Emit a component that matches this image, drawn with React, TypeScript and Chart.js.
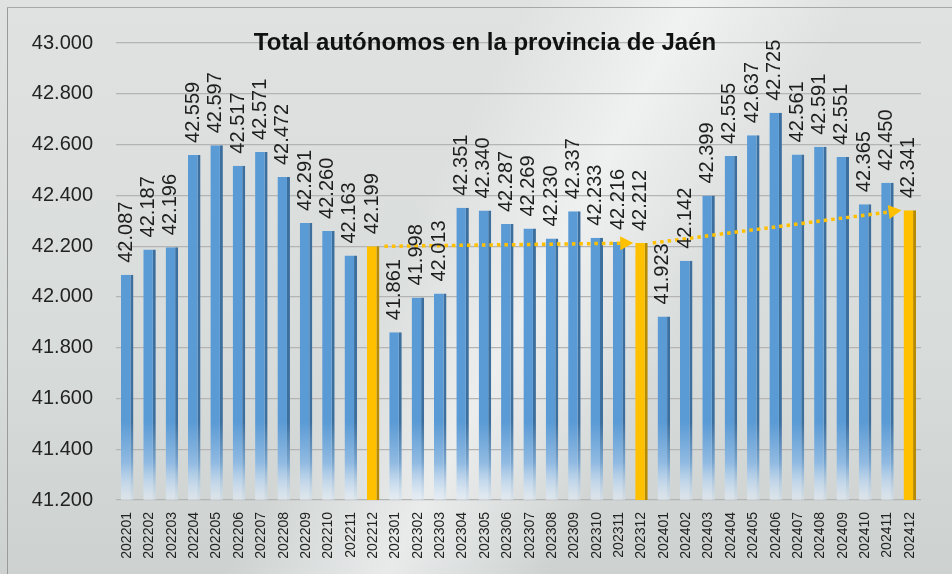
import React, { useEffect, useRef } from 'react';
import { Chart, registerables } from 'chart.js';

Chart.register(...registerables);

const categories = [
  '202201', '202202', '202203', '202204', '202205', '202206', '202207', '202208', '202209', '202210', '202211', '202212',
  '202301', '202302', '202303', '202304', '202305', '202306', '202307', '202308', '202309', '202310', '202311', '202312',
  '202401', '202402', '202403', '202404', '202405', '202406', '202407', '202408', '202409', '202410', '202411', '202412',
];

const values = [
  42087, 42187, 42196, 42559, 42597, 42517, 42571, 42472, 42291, 42260, 42163, 42199,
  41861, 41998, 42013, 42351, 42340, 42287, 42269, 42230, 42337, 42233, 42216, 42212,
  41923, 42142, 42399, 42555, 42637, 42725, 42561, 42591, 42551, 42365, 42450, 42341,
];

const highlighted = ['202212', '202312', '202412'];

const yMin = 41200;
const yMax = 43000;
const yStep = 200;

const titleText = 'Total autónomos en la provincia de Jaén';

const fmt = (v: number) => {
  const s = String(Math.round(v));
  return s.slice(0, -3) + '.' + s.slice(-3);
};

const SANS = '"Liberation Sans", Arial, sans-serif';

const isHi = (i: number) => highlighted.includes(categories[i]);

const gradCache: Record<string, CanvasGradient> = {};
function barFill(ctx: any, dark: boolean) {
  const chart = ctx.chart;
  const area = chart.chartArea;
  if (!area) return dark ? '#41719c' : '#5b9bd5';
  const key = (dark ? 'd' : 'l') + area.top + '_' + area.bottom;
  if (gradCache[key]) return gradCache[key];
  const g = chart.ctx.createLinearGradient(0, area.top, 0, area.bottom);
  if (dark) {
    g.addColorStop(0, '#3d6f9e');
    g.addColorStop(0.83, '#3d6f9e');
    g.addColorStop(0.92, '#7aa6cf');
    g.addColorStop(1, 'rgba(215,230,244,0.5)');
  } else {
    g.addColorStop(0, '#5b9bd5');
    g.addColorStop(0.83, '#5b9bd5');
    g.addColorStop(0.92, '#92bbe2');
    g.addColorStop(1, 'rgba(230,240,250,0.55)');
  }
  gradCache[key] = g;
  return g;
}

const titlePlugin = {
  id: 'fixedTitle',
  afterDraw(chart: any) {
    const ctx = chart.ctx;
    ctx.save();
    ctx.font = 'bold 24px ' + SANS;
    ctx.fillStyle = '#111';
    ctx.textAlign = 'center';
    ctx.textBaseline = 'middle';
    ctx.fillText(titleText, 485, 43);
    ctx.restore();
  },
};

const arrowPlugin = {
  id: 'trendArrows',
  afterDatasetsDraw(chart: any) {
    const meta = chart.getDatasetMeta(0);
    const idx = highlighted.map((c) => categories.indexOf(c)).filter((i) => i >= 0);
    const ctx = chart.ctx;
    ctx.save();
    for (let k = 0; k < idx.length - 1; k++) {
      const a = meta.data[idx[k]];
      const b = meta.data[idx[k + 1]];
      const x0 = a.x + a.width / 2 + 5;
      const y0 = a.y;
      const x1 = b.x - b.width / 2 - 2;
      const y1 = b.y;
      const ang = Math.atan2(y1 - y0, x1 - x0);
      const head = 13;
      const hx = x1 - head * Math.cos(ang);
      const hy = y1 - head * Math.sin(ang);
      ctx.strokeStyle = '#ffc000';
      ctx.lineWidth = 3.5;
      ctx.setLineDash([3.5, 4]);
      ctx.beginPath();
      ctx.moveTo(x0, y0);
      ctx.lineTo(hx, hy);
      ctx.stroke();
      ctx.setLineDash([]);
      ctx.fillStyle = '#ffc000';
      ctx.beginPath();
      ctx.moveTo(x1, y1);
      ctx.lineTo(hx + 7 * Math.sin(ang), hy - 7 * Math.cos(ang));
      ctx.lineTo(hx - 7 * Math.sin(ang), hy + 7 * Math.cos(ang));
      ctx.closePath();
      ctx.fill();
    }
    ctx.restore();
  },
};

const labelPlugin = {
  id: 'barLabels',
  afterDatasetsDraw(chart: any) {
    const meta = chart.getDatasetMeta(0);
    const ctx = chart.ctx;
    ctx.save();
    ctx.font = '20px ' + SANS;
    ctx.fillStyle = '#1e1e1e';
    ctx.textAlign = 'left';
    ctx.textBaseline = 'middle';
    meta.data.forEach((el: any, i: number) => {
      ctx.save();
      ctx.translate(el.x - 1, el.y - 12);
      ctx.rotate(-Math.PI / 2);
      ctx.fillText(fmt(values[i]), 0, 0);
      ctx.restore();
    });
    ctx.restore();
  },
};

export default function App() {
  const ref = useRef<HTMLCanvasElement | null>(null);

  useEffect(() => {
    document.body.style.margin = '0';
    if (!ref.current) return;
    const chart = new Chart(ref.current, {
      type: 'bar',
      data: {
        labels: categories,
        datasets: [
          {
            data: values,
            backgroundColor: (ctx: any) => (isHi(ctx.dataIndex) ? '#ffc000' : barFill(ctx, false)),
            borderColor: (ctx: any) => (isHi(ctx.dataIndex) ? '#b88a00' : barFill(ctx, true)),
            borderWidth: { top: 0, right: 3, bottom: 0, left: 0 },
            borderSkipped: false,
            barPercentage: 0.56,
            categoryPercentage: 1,
          },
        ],
      },
      options: {
        responsive: false,
        animation: false,
        devicePixelRatio: 1,
        layout: { padding: { left: 0, right: 31, top: 43, bottom: 0 } },
        plugins: {
          legend: { display: false },
          title: { display: false },
          tooltip: { enabled: false },
        },
        scales: {
          x: {
            grid: { display: false, drawTicks: false },
            border: { display: false },
            ticks: {
              autoSkip: false,
              minRotation: 90,
              maxRotation: 90,
              padding: 12,
              color: '#222',
              font: { family: SANS, size: 14 },
            },
            afterFit(scale: any) {
              scale.height = 74;
            },
          },
          y: {
            min: yMin,
            max: yMax,
            grid: { color: '#b4b4b4', lineWidth: 1.2, drawTicks: false },
            border: { display: false },
            ticks: {
              stepSize: yStep,
              padding: 23,
              color: '#222',
              font: { family: SANS, size: 20 },
              callback: (v: any) => fmt(Number(v)),
            },
            afterFit(scale: any) {
              scale.width = 116;
            },
          },
        },
      },
      plugins: [arrowPlugin, labelPlugin, titlePlugin],
    });
    return () => chart.destroy();
  }, []);

  return (
    <div
      style={{
        position: 'absolute',
        left: 0,
        top: 0,
        width: 952,
        height: 574,
        overflow: 'hidden',
        background:
          'linear-gradient(118deg, rgba(255,255,255,0) 42%, rgba(255,255,255,0.55) 55%, rgba(255,255,255,0) 68%), linear-gradient(to bottom, #dfe2e1 0%, #d8dcdb 60%, #cdd2d1 100%)',
      }}
    >
      <div style={{ position: 'absolute', left: 7, top: 7, width: 1, height: 574, background: '#9a9a9a' }} />
      <div style={{ position: 'absolute', left: 7, top: 7, width: 952, height: 1, background: '#a8a8a8' }} />
      <canvas ref={ref} width={952} height={574} style={{ position: 'absolute', left: 0, top: 0 }} />
    </div>
  );
}
